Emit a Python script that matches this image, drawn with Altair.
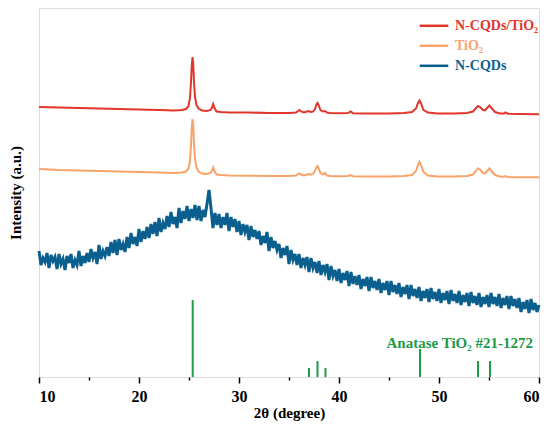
import altair as alt
import pandas as pd
import numpy as np

# ---- data (intensity in arbitrary units) ----
peak_grid = [10, 12, 14, 16, 18, 20, 22, 23.5, 24.3, 24.7, 24.95, 25.1, 25.2, 25.28, 25.35, 25.42,
             25.5, 25.6, 25.75, 25.95, 26.3, 26.8, 27.15, 27.3, 27.42, 27.55, 27.75, 28.2, 29, 31,
             33, 35, 35.7, 35.9, 36.05, 36.2, 36.5, 36.8, 36.95, 37.15, 37.4, 37.6, 37.75, 37.85,
             37.95, 38.15, 38.4, 38.6, 38.8, 39.1, 40, 40.9, 41.15, 41.4, 42.5, 45, 46.5, 47.3,
             47.7, 47.9, 48.05, 48.2, 48.45, 48.9, 49.8, 51.5, 52.8, 53.4, 53.7, 53.9, 54.1, 54.4,
             54.6, 54.85, 55.05, 55.25, 55.6, 56.1, 56.5, 56.65, 56.9, 58, 60]

composite_intensity = [270, 269.5, 269, 268.5, 268, 267.5, 267, 266.5, 267, 268, 271, 279, 295, 312,
                       320, 314, 295, 280, 272, 268.5, 266.5, 266, 267, 269.5, 273, 269, 265.5, 265,
                       264.5, 264.5, 264, 264, 264.5, 266, 267, 265.5, 264.5, 265.5, 266, 265, 265.5,
                       268, 272.5, 274, 272, 267, 265.5, 266, 264.5, 264, 263.8, 264, 265.5, 263.8,
                       263.5, 263.5, 264, 265, 268.5, 274, 276.5, 273.5, 267, 264.5, 263.5, 263.5,
                       264, 265.5, 269, 271, 270, 267, 266.5, 269.5, 271.5, 269, 265, 263.5, 263.5,
                       264.5, 263.3, 263, 262.8]

tio2_intensity = [208, 207, 206.5, 206, 205.5, 205, 204.5, 204, 204.5, 205.5, 208.5, 216, 232, 250,
                  258, 252, 233, 218, 209.5, 205.5, 203.5, 203, 204, 206.5, 209.5, 206, 202.5, 202,
                  201.5, 201.3, 201, 201, 201.5, 203, 203.7, 202.5, 201.5, 202.5, 203, 202.3, 203,
                  206, 210, 211, 209, 204, 202.5, 204, 201.5, 201, 200.8, 201, 202, 200.8, 200.5,
                  200.5, 201, 202, 206, 212, 215.3, 212, 205, 201.5, 200.5, 200.5, 201, 202.5, 206,
                  208.7, 207.5, 204, 203.5, 206.5, 208.7, 206, 202, 200.5, 200.3, 201, 200, 199.8,
                  199.7]

cqd_start = 10.0
cqd_step = 0.2
cqd_intensity = [
    126, 112, 119, 115, 124,   109, 122, 116, 120, 108,   123, 113, 118, 107, 121,
    114, 123, 109, 117, 112,   126, 111, 121, 114, 124,   115, 128, 119, 125, 113,
    132, 118, 126, 121, 130,   121, 135, 124, 137, 122,   138, 127, 133, 125, 140,
    129, 144, 133, 140, 131,   148, 135, 146, 138, 150,   139, 153, 143, 155, 141,
    159, 145, 154, 148, 161,   150, 165, 153, 160, 149,   169, 154, 166, 158, 171,
    156, 168, 159, 172, 157,   171, 156, 167, 160, 173,   187, 169, 149, 164, 152,
    163, 149, 160, 152, 164,   146, 160, 150, 158, 145,   156, 142, 153, 145, 152,
    137, 151, 140, 147, 138,   146, 132, 141, 134, 145,   126, 140, 129, 136, 127,
    133, 119, 129, 122, 131,   113, 127, 117, 123, 112,   123, 109, 119, 112, 120,
    105, 119, 109, 115, 104,   116, 102, 112, 105, 113,   97, 111, 101, 107, 96,
    108, 94, 104, 97, 106,     91, 105, 93, 101, 92,      102, 88, 98, 91, 100,
    86, 100, 89, 96, 87,       98, 84, 94, 87, 96,        82, 96, 85, 92, 83,
    94, 80, 90, 83, 92,        78, 92, 81, 88, 79,        90, 76, 86, 79, 88,
    75, 89, 78, 85, 76,        88, 74, 84, 77, 86,        73, 87, 76, 83, 74,
    86, 72, 82, 75, 84,        71, 85, 74, 81, 72,        84, 70, 80, 73, 82,
    70, 84, 73, 80, 71,        83, 69, 79, 72, 81,        68, 81, 71, 78, 69,
    79, 65, 75, 68, 77,        64, 78, 67, 74, 65,        72]

series_names = ["N-CQDs/TiO\u2082", "TiO\u2082", "N-CQDs"]
series_colors = ["#e2352c", "#f9a36a", "#0b5f8e"]

stick_positions = [25.37, 37.0, 37.85, 38.65, 48.1, 53.9, 55.1]
stick_heights = [77, 9, 16, 9, 28, 16, 16]
card_label = "Anatase TiO\u2082 #21-1272"

x_ticks = [10, 15, 20, 25, 30, 35, 40, 45, 50, 55, 60]

# ---- tables ----
cqd_x = cqd_start + cqd_step * np.arange(len(cqd_intensity))
lines = pd.concat([
    pd.DataFrame({"x": peak_grid, "y": composite_intensity, "series": series_names[0], "o": 0, "w": 2.0}),
    pd.DataFrame({"x": peak_grid, "y": tio2_intensity, "series": series_names[1], "o": 1, "w": 2.0}),
    pd.DataFrame({"x": cqd_x, "y": cqd_intensity, "series": series_names[2], "o": 2, "w": 3.0}),
], ignore_index=True)
lines["i"] = np.arange(len(lines))
sticks = pd.DataFrame({"x": stick_positions, "h": stick_heights})

FONT = "Liberation Serif, Times New Roman, serif"
xscale = alt.Scale(domain=[10, 60], nice=False, zero=False)
yscale = alt.Scale(domain=[0, 369], nice=False, zero=True)

color_expr = "datum.value === '%s' ? '%s' : (datum.value === '%s' ? '%s' : '%s')" % (
    series_names[0], series_colors[0], series_names[1], series_colors[1], series_colors[2])

legend = alt.Legend(
    title=None, orient="none", legendX=382.5, legendY=5.3,
    symbolType="M-1.3,0H1.3", symbolSize=484, symbolStrokeWidth=2.5,
    labelFont=FONT, labelFontWeight="bold", labelFontSize=14, labelOffset=8.5,
    rowPadding=0, padding=0,
    labelColor=alt.ExprRef(color_expr),
)

xaxis = alt.Axis(
    values=x_ticks, title="2\u03b8 (degree)",
    labelExpr="datum.value % 10 === 0 ? datum.label : ''",
    tickSize={"condition": {"test": "datum.value % 10 === 0", "value": 6}, "value": 3},
    tickWidth=1.5, tickColor="black", domain=False, grid=False,
    labelFont=FONT, labelFontWeight="bold", labelFontSize=16, labelColor="black",
    labelPadding=5, titleFont=FONT, titleFontWeight="bold", titleFontSize=15,
    titleColor="black", titlePadding=1)
yaxis = alt.Axis(
    title="Intensity (a.u.)", labels=False, ticks=False, domain=False, grid=False,
    titleFont=FONT, titleFontWeight="bold", titleFontSize=15, titleColor="black",
    titlePadding=16)

line_layer = alt.Chart(lines).mark_line().encode(
    x=alt.X("x:Q", scale=xscale, axis=xaxis),
    y=alt.Y("y:Q", scale=yscale, axis=yaxis),
    color=alt.Color("series:N", scale=alt.Scale(domain=series_names, range=series_colors),
                    legend=legend),
    strokeWidth=alt.StrokeWidth("w:Q", scale=None, legend=None),
    detail="o:N",
    order="i:Q",
)

stick_layer = alt.Chart(sticks).mark_rule(color="#229a48", strokeWidth=2).encode(
    x=alt.X("x:Q", scale=xscale),
    y=alt.Y("h:Q", scale=yscale),
    y2=alt.datum(0),
)

label_layer = alt.Chart(pd.DataFrame({"t": [card_label]})).mark_text(
    font=FONT, fontWeight="bold", fontSize=15, color="#229a48", align="right",
    baseline="middle",
).encode(text="t:N", x=alt.datum(59.4), y=alt.datum(34))

chart = alt.layer(line_layer, stick_layer, label_layer).properties(
    width=500, height=369,
    autosize=alt.AutoSizeParams(type="none"),
    padding={"left": 31, "top": 0, "right": 3, "bottom": 45},
).configure_view(stroke="black", strokeWidth=2).configure(background="white")

chart.save("out.html", embed_options={"renderer": "svg", "actions": False})
